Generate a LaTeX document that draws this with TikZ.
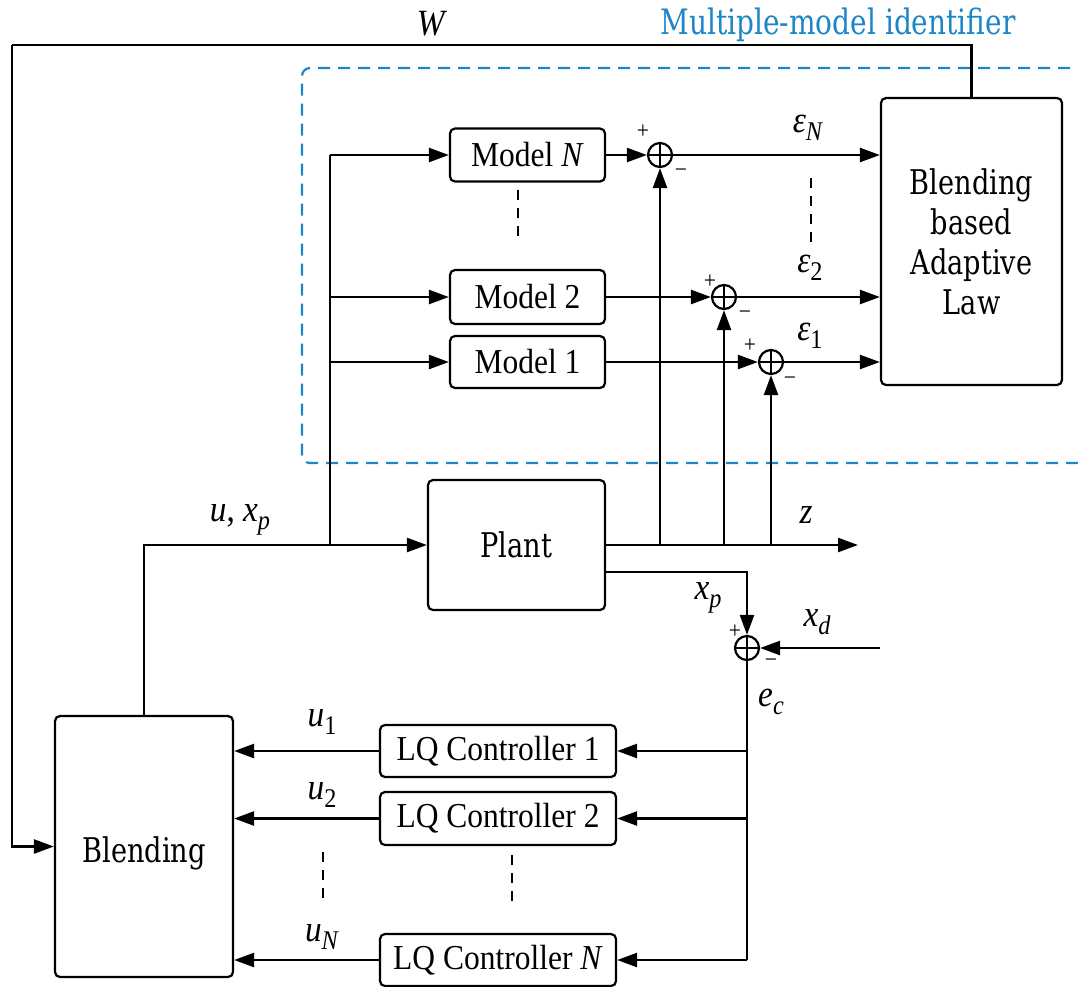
\documentclass[tikz,border=0pt]{standalone}
\usepackage{fontspec}
\setmainfont{Liberation Serif}[FakeStretch=0.9]
\newfontfamily\djv{DejaVu Serif}[FakeStretch=0.8]
\usetikzlibrary{arrows.meta}
\definecolor{idblue}{RGB}{28,134,198}
\newcommand{\vsub}[2]{\textit{#1}\raisebox{-0.45ex}{\fontsize{27}{27}\selectfont #2}}
\tikzset{
  blk/.style={draw, line width=2.2pt, rounded corners=5pt, inner sep=0pt, font=\fontsize{35}{40}\selectfont},
  sumnode/.style={circle, draw, line width=2.2pt, minimum size=24pt, inner sep=0pt,
    path picture={\draw[line width=2.2pt] (path picture bounding box.north) -- (path picture bounding box.south)
      (path picture bounding box.west) -- (path picture bounding box.east);}},
  conn/.style={line width=2.4pt},
  arr/.style={conn, -{Triangle[length=20pt,width=14pt]}},
  lbl/.style={font=\fontsize{37}{40}\selectfont, inner sep=0pt},
  pm/.style={font=\fontsize{24}{24}\selectfont, inner sep=0pt},
  dots/.style={line width=1.6pt, dash pattern=on 10pt off 8pt},
  djvtxt/.style={font=\djv\fontsize{34}{40}\selectfont, align=center}
}
\begin{document}
\begin{tikzpicture}[x=1pt,y=-1pt]
\useasboundingbox (0,0) rectangle (1078,986);

% identifier box
\draw[idblue, line width=2.2pt, dash pattern=on 12pt off 8pt, rounded corners=8pt]
  (1090,68) -- (302,68) -- (302,463) -- (1090,463);
\node[djvtxt, font=\djv\fontsize{35}{40}\selectfont, text=idblue] (idlbl) at (838,25) {Multiple-model identifier};

% blocks
\node[blk, minimum width=155pt, minimum height=53pt] (mN) at (527.5,155) {Model \textit{N}};
\node[blk, minimum width=155pt, minimum height=54pt] (m2) at (527.5,297) {Model 2};
\node[blk, minimum width=155pt, minimum height=52pt] (m1) at (527.5,362) {Model 1};
\node[blk, minimum width=181pt, minimum height=287pt, djvtxt] (al) at (971.5,241.5) {Blending\\based\\Adaptive\\Law};
\node[blk, minimum width=177pt, minimum height=130pt, djvtxt] (pl) at (516.5,545) {Plant};
\node[blk, minimum width=236pt, minimum height=52pt] (lq1) at (498,751) {LQ Controller 1};
\node[blk, minimum width=236pt, minimum height=53pt] (lq2) at (498,818.5) {LQ Controller 2};
\node[blk, minimum width=236pt, minimum height=52pt] (lqN) at (498,960) {LQ Controller \textit{N}};
\node[blk, minimum width=178pt, minimum height=261pt] (bl) at (144,846.5) {};
\node[djvtxt, inner sep=0pt] (bltxt) at (144,853) {Blending};

% summing junctions
\node[sumnode] (sN) at (660,155) {};
\node[sumnode] (s2) at (724,297) {};
\node[sumnode] (s1) at (771,362) {};
\node[sumnode] (sc) at (747,648) {};

% coordinates
\coordinate (fb) at (330,545);
\coordinate (wl) at (12,45);
\coordinate (zend) at (858,545);
\coordinate (xpo) at (605,572);
\coordinate (xdin) at (880,648);
\coordinate (ecb) at (747,960);

% model inputs
\draw[conn] (bl.north) |- (fb);
\draw[arr] (fb) -- (pl.west);
\draw[conn] (fb) |- (330,155);
\draw[arr] (330,155) -- (mN.west);
\draw[arr] (fb |- m2.west) -- (m2.west);
\draw[arr] (fb |- m1.west) -- (m1.west);

% model outputs to sums
\draw[arr] (mN.east) -- (sN.west);
\draw[arr] (m2.east) -- (s2.west);
\draw[arr] (m1.east) -- (s1.west);

% sums to adaptive law
\draw[arr] (sN.east) -- (sN -| al.west);
\draw[arr] (s2.east) -- (s2 -| al.west);
\draw[arr] (s1.east) -- (s1 -| al.west);

% plant output z
\draw[arr] (pl.east) -- (zend);
\draw[arr] (sN |- pl.east) -- (sN.south);
\draw[arr] (s2 |- pl.east) -- (s2.south);
\draw[arr] (s1 |- pl.east) -- (s1.south);

% x_p feedback
\draw[arr] (xpo) -| (sc.north);
\draw[arr] (xdin) -- (sc.east);

% error to controllers
\draw[conn] (sc.south) -- (ecb);
\draw[arr] (sc |- lq1.east) -- (lq1.east);
\draw[arr] (sc |- lq2.east) -- (lq2.east);
\draw[arr] (ecb) -- (lqN.east);

% controllers to blending
\draw[arr] (lq1.west) -- (lq1.west -| bl.east);
\draw[arr] (lq2.west) -- (lq2.west -| bl.east);
\draw[arr] (lqN.west) -- (lqN.west -| bl.east);

% W feedback
\draw[conn] (al.north) |- (wl);
\draw[arr] (wl) |- (bl.west);

% dotted continuations
\draw[dots] (518,190) -- (518,237);
\draw[dots] (811,178) -- (811,245);
\draw[dots] (323,852) -- (323,902);
\draw[dots] (512,855) -- (512,907);

% labels
\node[lbl] (wlab) at (432,24) {\textit{W}};
\node[lbl] (eN) at (808,128) {\vsub{ε}{\textit{N}}};
\node[lbl] (e2) at (810,268) {\vsub{ε}{2}};
\node[lbl] (e1) at (810,336) {\vsub{ε}{1}};
\node[lbl] (zl) at (806,515) {\textit{z}};
\node[lbl] (uxp) at (240,520) {\textit{u}, \vsub{x}{\textit{p}}};
\node[lbl] (xpl) at (708,598) {\vsub{x}{\textit{p}}};
\node[lbl] (xdl) at (817,622) {\vsub{x}{\textit{d}}};
\node[lbl] (ecl) at (771,702) {\vsub{e}{\textit{c}}};
\node[lbl] (u1l) at (322,722) {\vsub{u}{1}};
\node[lbl] (u2l) at (322,795) {\vsub{u}{2}};
\node[lbl] (uNl) at (322,937) {\vsub{u}{\textit{N}}};

% signs
\node[pm] (pN) at (643,132) {+};
\node[pm] (nN) at (681,173) {−};
\node[pm] (p2) at (710,282) {+};
\node[pm] (n2) at (745,315) {−};
\node[pm] (p1) at (750,346) {+};
\node[pm] (n1) at (790,381) {−};
\node[pm] (pc) at (735,632) {+};
\node[pm] (nc) at (771,663) {−};
\end{tikzpicture}
\end{document}
